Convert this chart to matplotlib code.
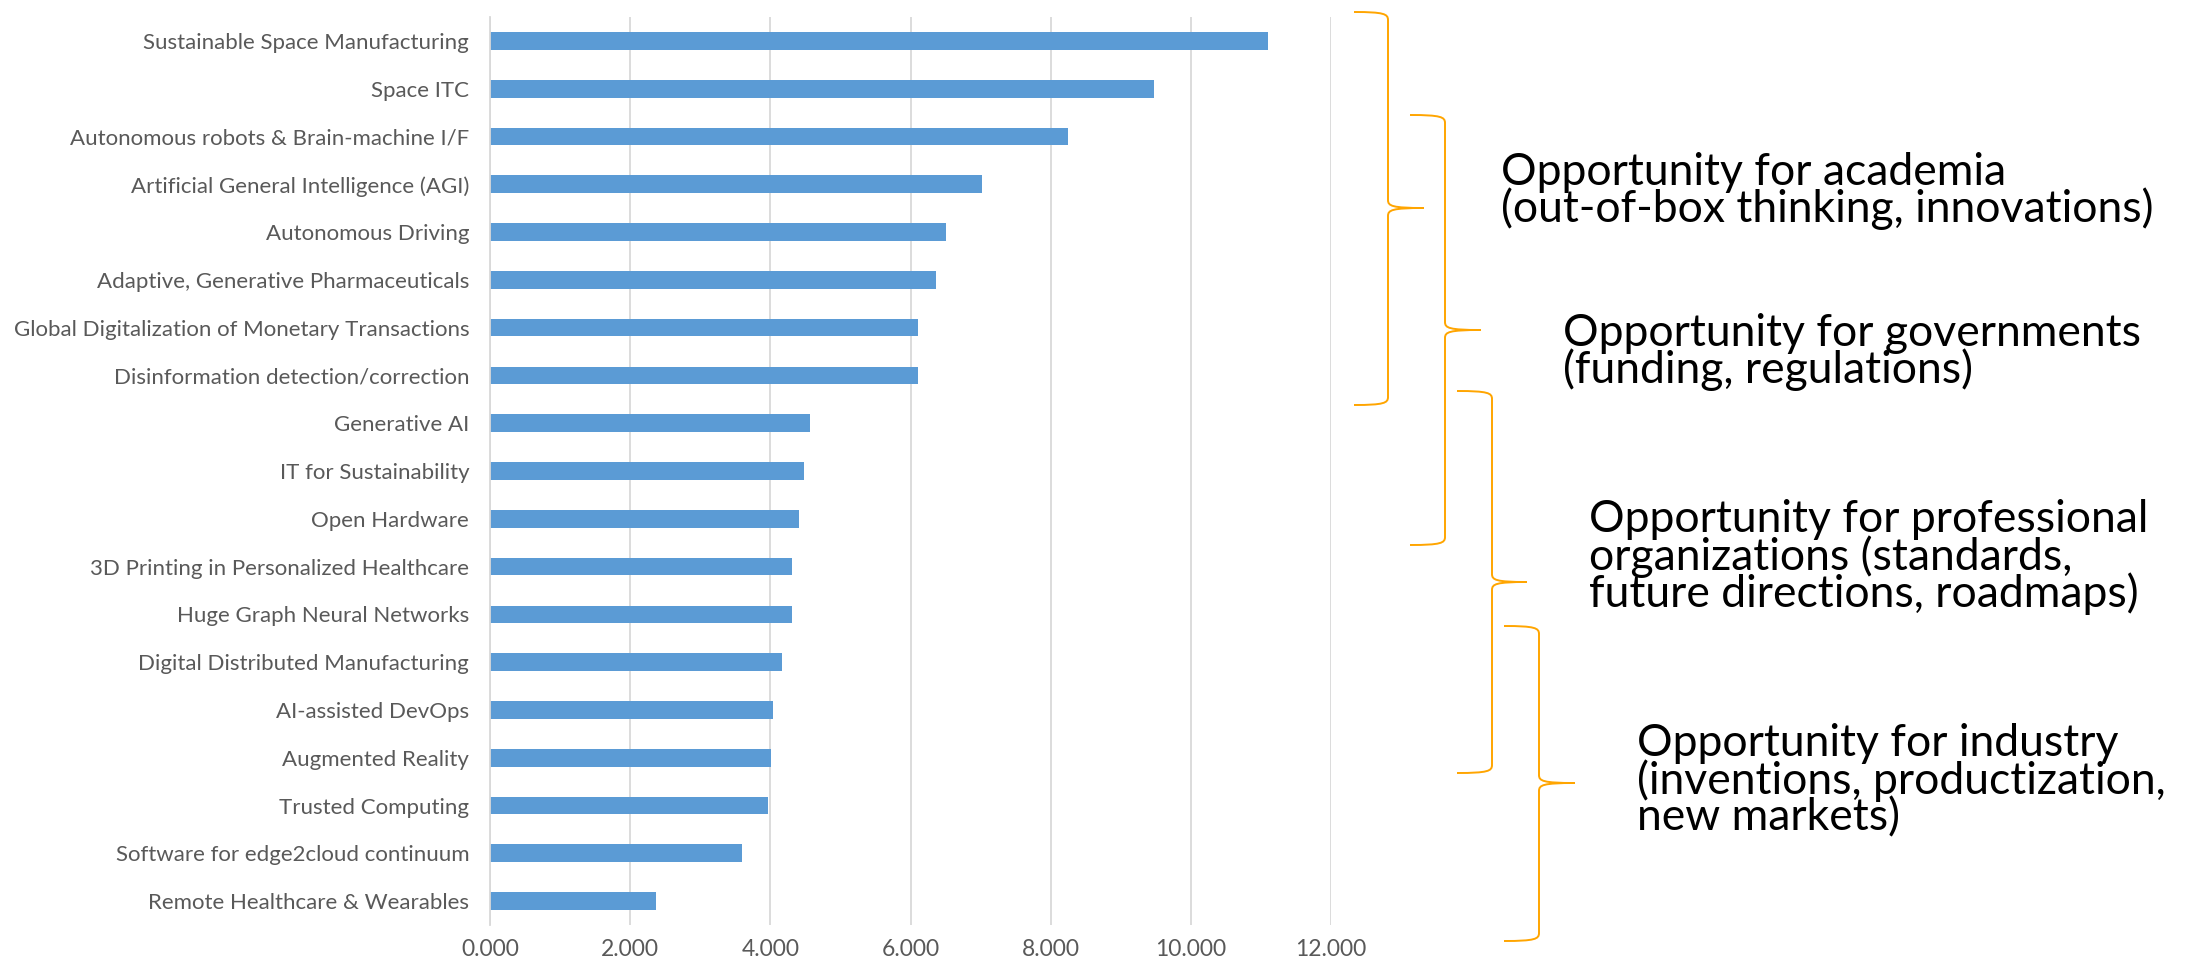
import numpy as np
import matplotlib.pyplot as plt
from matplotlib.path import Path
from matplotlib.patches import PathPatch
from matplotlib.ticker import FuncFormatter

plt.rcParams['font.family'] = ['Lato', 'DejaVu Sans']

# topics, top to bottom, and their scores
topics = [
    "Sustainable Space Manufacturing",
    "Space ITC",
    "Autonomous robots & Brain-machine I/F",
    "Artificial General Intelligence (AGI)",
    "Autonomous Driving",
    "Adaptive, Generative Pharmaceuticals",
    "Global Digitalization of Monetary Transactions",
    "Disinformation detection/correction",
    "Generative AI",
    "IT for Sustainability",
    "Open Hardware",
    "3D Printing in Personalized Healthcare",
    "Huge Graph Neural Networks",
    "Digital Distributed Manufacturing",
    "AI-assisted DevOps",
    "Augmented Reality",
    "Trusted Computing",
    "Software for edge2cloud continuum",
    "Remote Healthcare & Wearables",
]
scores = [11100, 9480, 8245, 7025, 6510, 6360, 6110, 6110, 4565, 4475,
          4415, 4305, 4305, 4165, 4045, 4015, 3965, 3590, 2365]
xticks = [0, 2000, 4000, 6000, 8000, 10000, 12000]

# annotation texts
groups = [
    "Opportunity for academia\n(out-of-box thinking, innovations)",
    "Opportunity for governments\n(funding, regulations)",
    "Opportunity for professional\norganizations (standards,\nfuture directions, roadmaps)",
    "Opportunity for industry\n(inventions, productization,\nnew markets)",
]

W, H = 2194, 966
fig = plt.figure(figsize=(W / 100, H / 100), dpi=100)
ax = fig.add_axes([490 / W, 1 - 925 / H, 841 / W, 908 / H])

y = np.arange(len(topics))
ax.barh(y, scores, height=0.37, color='#5B9BD5', zorder=2)
ax.set_yticks(y)
ax.set_yticklabels(topics)
ax.set_ylim(len(topics) - 0.5, -0.5)
ax.set_xlim(0, 12000)
ax.set_xticks(xticks)
ax.xaxis.set_major_formatter(FuncFormatter(lambda v, p: f"{v / 1000:.3f}"))
ax.grid(axis='x', color='#D9D9D9', linewidth=1.3, zorder=0)
for s in ['top', 'right', 'bottom']:
    ax.spines[s].set_visible(False)
ax.spines['left'].set_color('#D9D9D9')
ax.spines['left'].set_linewidth(1.3)
ax.tick_params(axis='both', length=0, colors='#595959')
ax.tick_params(axis='y', pad=15, labelsize=16)
ax.tick_params(axis='x', pad=10, labelsize=16.5)

# overlay in pixel coordinates for braces and notes
ov = fig.add_axes([0, 0, 1, 1])
ov.set_xlim(0, W)
ov.set_ylim(H, 0)
ov.axis('off')

# brace: (end x, spine x, tip x, top y, bottom y, tip y)
braces = [
    (1354, 1388, 1424, 12, 405, 208),
    (1410, 1445, 1481, 115, 545, 330),
    (1457, 1492, 1527, 391, 773, 582),
    (1504, 1539, 1575, 626, 941, 783),
]
note_pos = [(1501, 191), (1563, 352), (1589, 557), (1637, 781)]


def brace(xe, xs, xt, top, bot, mid):
    r = 8
    verts = [
        (xe, top), (xs - 4, top), (xs, top + 2), (xs, top + r),
        (xs, mid - r),
        (xs, mid - 2), (xs + 4, mid), (xt, mid),
        (xs + 4, mid), (xs, mid + 2), (xs, mid + r),
        (xs, bot - r),
        (xs, bot - 2), (xs - 4, bot), (xe, bot),
    ]
    codes = [Path.MOVETO, Path.CURVE4, Path.CURVE4, Path.CURVE4,
             Path.LINETO,
             Path.CURVE4, Path.CURVE4, Path.CURVE4,
             Path.CURVE4, Path.CURVE4, Path.CURVE4,
             Path.LINETO,
             Path.CURVE4, Path.CURVE4, Path.CURVE4]
    ov.add_patch(PathPatch(Path(verts, codes), fill=False,
                           edgecolor='#FFA500', linewidth=1.4))


for b in braces:
    brace(*b)

for (tx, ty), txt in zip(note_pos, groups):
    ov.text(tx, ty, txt, fontsize=32, color='black', ha='left', va='center',
            linespacing=0.86)

fig.savefig('out.png', dpi=100)
